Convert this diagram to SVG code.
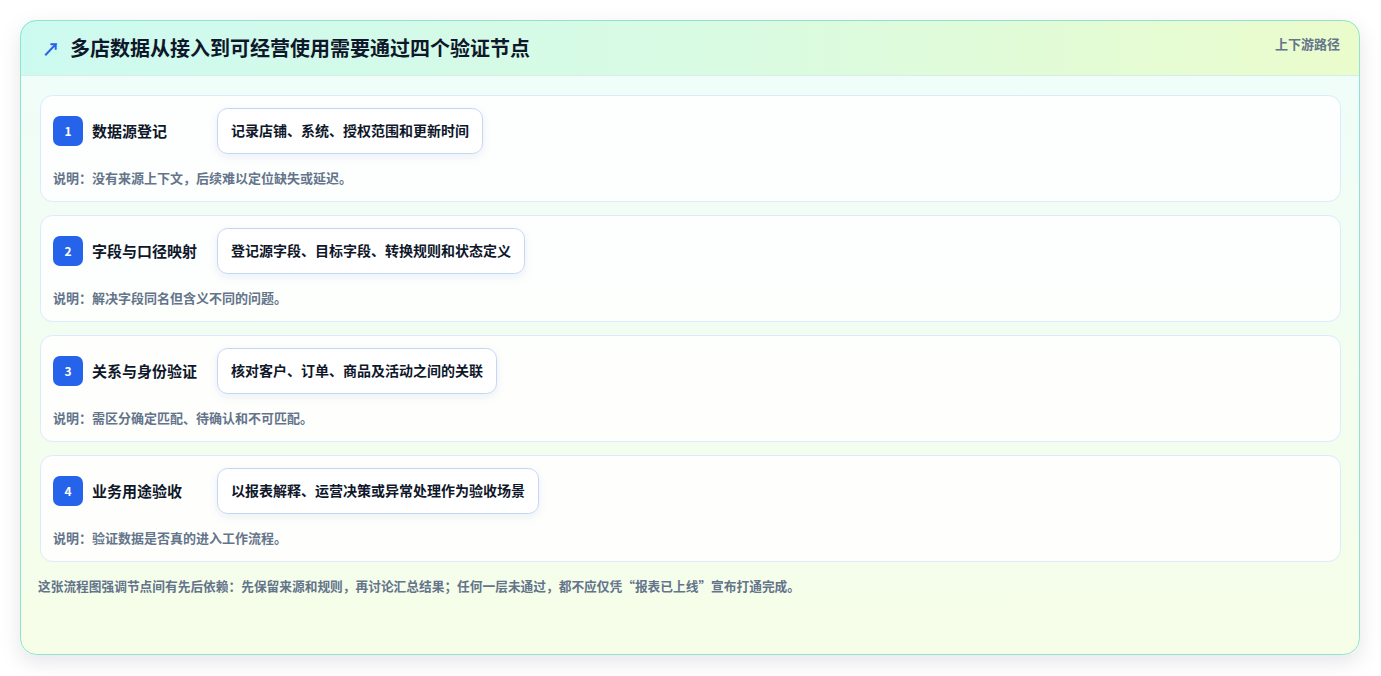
<svg xmlns="http://www.w3.org/2000/svg" width="1381" height="676" viewBox="0 0 1381 676">
<defs>
<linearGradient id="hdr" x1="0" y1="0" x2="1" y2="0"><stop offset="0" stop-color="#cdfaf0"/><stop offset="0.5" stop-color="#d8fbe3"/><stop offset="1" stop-color="#ebfccc"/></linearGradient>
<linearGradient id="body2" x1="0" y1="0" x2="0" y2="1"><stop offset="0" stop-color="#effdfa"/><stop offset="1" stop-color="#f6fee8"/></linearGradient>
<filter id="sh" x="-5%" y="-10%" width="110%" height="125%"><feDropShadow dx="0" dy="7" stdDeviation="10" flood-color="#0f172a" flood-opacity="0.1"/></filter>
<filter id="csh" x="-10%" y="-30%" width="120%" height="180%"><feDropShadow dx="0" dy="3" stdDeviation="4" flood-color="#1e3a8a" flood-opacity="0.08"/></filter>
<clipPath id="cc"><rect x="20" y="20" width="1340" height="635" rx="16"/></clipPath>
</defs>
<style>
.t{font-family:"Noto Sans CJK SC","Noto Sans",sans-serif;}
.title{font-size:20px;font-weight:700;fill:#0f172a;}
.tag{font-size:13px;font-weight:700;fill:#64748b;}
.row{fill:#ffffff;fill-opacity:0.85;stroke:#dbeafe;stroke-width:1;}
.badge{fill:#2563eb;}
.num{font-size:12px;font-weight:700;fill:#ffffff;}
.lab{font-size:15px;font-weight:700;fill:#0f172a;}
.chip{fill:#ffffff;stroke:#c3d6f5;stroke-width:1;}
.ct{font-size:14px;font-weight:700;fill:#0f172a;}
.desc{font-size:13px;font-weight:700;fill:#64748b;}
.foot{font-size:13px;font-weight:700;fill:#64748b;}
</style>
<rect width="1381" height="676" fill="#ffffff"/>
<g id="card">
<rect x="20" y="20" width="1340" height="635" rx="16" fill="url(#body2)" filter="url(#sh)"/>
<g clip-path="url(#cc)">
<rect x="20" y="20" width="1340" height="55" fill="url(#hdr)"/>
<line x1="20" y1="75.5" x2="1360" y2="75.5" stroke="#d6eeea" stroke-width="1"/>
</g>
<rect x="20.5" y="20.5" width="1339" height="634" rx="16" fill="none" stroke="#8fe3d3" stroke-width="1"/>
<text class="t" x="42" y="56" font-size="18" font-weight="700" fill="#2563eb">↗</text>
<text class="t title" x="70" y="56">多店数据从接入到可经营使用需要通过四个验证节点</text>
<text class="t tag" x="1340" y="49" text-anchor="end">上下游路径</text>
</g>
<g id="node1">
<rect class="row" x="40.5" y="95.5" width="1300" height="106" rx="12"/>
<rect class="badge" x="53" y="116" width="30" height="30" rx="7"/>
<text class="t num" x="68" y="135.5" text-anchor="middle">1</text>
<text class="t lab" x="92" y="136.5">数据源登记</text>
<rect class="chip" x="217.5" y="108.5" width="265" height="45" rx="10" filter="url(#csh)"/>
<text class="t ct" x="231" y="136">记录店铺、系统、授权范围和更新时间</text>
<text class="t desc" x="53" y="183">说明：没有来源上下文，后续难以定位缺失或延迟。</text>
</g>
<g id="node2">
<rect class="row" x="40.5" y="215.5" width="1300" height="106" rx="12"/>
<rect class="badge" x="53" y="236" width="30" height="30" rx="7"/>
<text class="t num" x="68" y="255.5" text-anchor="middle">2</text>
<text class="t lab" x="92" y="256.5">字段与口径映射</text>
<rect class="chip" x="217.5" y="228.5" width="307" height="45" rx="10" filter="url(#csh)"/>
<text class="t ct" x="231" y="256">登记源字段、目标字段、转换规则和状态定义</text>
<text class="t desc" x="53" y="303">说明：解决字段同名但含义不同的问题。</text>
</g>
<g id="node3">
<rect class="row" x="40.5" y="335.5" width="1300" height="106" rx="12"/>
<rect class="badge" x="53" y="356" width="30" height="30" rx="7"/>
<text class="t num" x="68" y="375.5" text-anchor="middle">3</text>
<text class="t lab" x="92" y="376.5">关系与身份验证</text>
<rect class="chip" x="217.5" y="348.5" width="279" height="45" rx="10" filter="url(#csh)"/>
<text class="t ct" x="231" y="376">核对客户、订单、商品及活动之间的关联</text>
<text class="t desc" x="53" y="423">说明：需区分确定匹配、待确认和不可匹配。</text>
</g>
<g id="node4">
<rect class="row" x="40.5" y="455.5" width="1300" height="106" rx="12"/>
<rect class="badge" x="53" y="476" width="30" height="30" rx="7"/>
<text class="t num" x="68" y="495.5" text-anchor="middle">4</text>
<text class="t lab" x="92" y="496.5">业务用途验收</text>
<rect class="chip" x="217.5" y="468.5" width="321" height="45" rx="10" filter="url(#csh)"/>
<text class="t ct" x="231" y="496">以报表解释、运营决策或异常处理作为验收场景</text>
<text class="t desc" x="53" y="543">说明：验证数据是否真的进入工作流程。</text>
</g>
<g id="connectors"></g>
<text class="t foot" x="38" y="591" textLength="762" lengthAdjust="spacingAndGlyphs">这张流程图强调节点间有先后依赖：先保留来源和规则，再讨论汇总结果；任何一层未通过，都不应仅凭“报表已上线”宣布打通完成。</text>
</svg>
